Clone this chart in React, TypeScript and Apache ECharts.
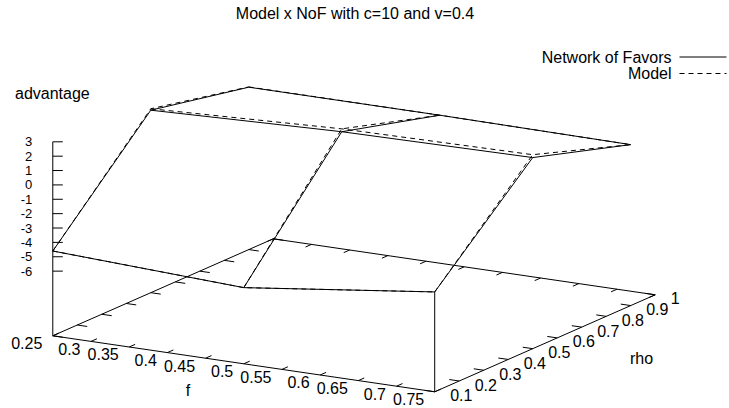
import React, { useEffect, useRef } from 'react';
import * as echarts from 'echarts';

// ---------------- data ----------------
const titleText = 'Model x NoF with c=10 and v=0.4';
const seriesNames = ['Network of Favors', 'Model'];

const fValues = [0.25, 0.5, 0.75];
const rhoValues = [0.1, 0.5, 0.9];

// advantage, one array per rho value, across fValues
const nofRho01 = [-4.6, -5.2, -3.55];
const nofRho05 = [2.2, 2.65, 2.8];
const nofRho09 = [0.8, 0.8, 0.7];

const modelRho01 = [-4.6, -5.2, -3.55];
const modelRho05 = [2.3, 2.85, 3.0];
const modelRho09 = [0.82, 0.8, 0.7];

const fTicks = [0.25, 0.3, 0.35, 0.4, 0.45, 0.5, 0.55, 0.6, 0.65, 0.7, 0.75];
const rhoTicks = [0.1, 0.2, 0.3, 0.4, 0.5, 0.6, 0.7, 0.8, 0.9, 1];
const zTicks = [3, 2, 1, 0, -1, -2, -3, -4, -5, -6];

// ---------------- view (gnuplot-like "set view 60,30") ----------------
const W = 729;
const H = 408;
const F_RANGE = [0.25, 0.75];
const RHO_RANGE = [0.1, 1];
const Z_RANGE = [-6, 3];
const TICSLEVEL = 0.5;
const Z_BASE = Z_RANGE[0] - TICSLEVEL * (Z_RANGE[1] - Z_RANGE[0]);
const ROT_X = (60 * Math.PI) / 180;
const ROT_Z = (30 * Math.PI) / 180;
const SCALE_X = 220.5;
const SCALE_Y = 112;
const CENTER_X = 354;
const CENTER_Y = 218.3;
const FONT = '"Liberation Sans", Arial, Helvetica, sans-serif';
const FS = 16;

function project(f: number, rho: number, z: number): [number, number] {
  const u = (f - (F_RANGE[0] + F_RANGE[1]) / 2) / ((F_RANGE[1] - F_RANGE[0]) / 2);
  const v = (rho - (RHO_RANGE[0] + RHO_RANGE[1]) / 2) / ((RHO_RANGE[1] - RHO_RANGE[0]) / 2);
  const w = (z - (Z_BASE + Z_RANGE[1]) / 2) / ((Z_RANGE[1] - Z_BASE) / 2);
  const X = u * Math.cos(ROT_Z) + v * Math.sin(ROT_Z);
  const Y = (u * Math.sin(ROT_Z) - v * Math.cos(ROT_Z)) * Math.cos(ROT_X) - w * Math.sin(ROT_X);
  return [CENTER_X + SCALE_X * X, CENTER_Y + SCALE_Y * Y];
}

const GAP: any = ['-', '-'];

function meshData(rows: number[][], withCorner: boolean) {
  const out: any[] = [];
  rows.forEach((row, i) => {
    row.forEach((z, j) => out.push(project(fValues[j], rhoValues[i], z)));
    out.push(GAP);
  });
  fValues.forEach((f, j) => {
    rows.forEach((row, i) => out.push(project(f, rhoValues[i], row[j])));
    out.push(GAP);
  });
  if (withCorner) {
    const last = fValues.length - 1;
    out.push(project(fValues[last], rhoValues[0], Z_BASE));
    out.push(project(fValues[last], rhoValues[0], rows[0][last]));
    out.push(GAP);
  }
  return out;
}

function frameData() {
  const out: any[] = [];
  const [f0, f1] = F_RANGE;
  const [r0, r1] = RHO_RANGE;
  // base
  out.push(project(f0, r0, Z_BASE), project(f1, r0, Z_BASE), project(f1, r1, Z_BASE), project(f0, r1, Z_BASE), project(f0, r0, Z_BASE), GAP);
  // z axis
  out.push(project(f0, r0, Z_BASE), project(f0, r0, Z_RANGE[1]), GAP);
  const fLen = 0.027 * (r1 - r0);
  const rLen = 0.026 * (f1 - f0);
  fTicks.forEach((f) => {
    out.push(project(f, r0, Z_BASE), project(f, r0 + fLen, Z_BASE), GAP);
    out.push(project(f, r1, Z_BASE), project(f, r1 - fLen, Z_BASE), GAP);
  });
  rhoTicks.forEach((r) => {
    out.push(project(f1, r, Z_BASE), project(f1 - rLen, r, Z_BASE), GAP);
    out.push(project(f0, r, Z_BASE), project(f0 + rLen, r, Z_BASE), GAP);
  });
  zTicks.forEach((z) => {
    const p = project(f0, r0, z);
    out.push(p, [p[0] + 10, p[1]], GAP);
  });
  return out;
}

function fmt(v: number) {
  return String(parseFloat(v.toFixed(2)));
}

function textEl(text: string, x: number, y: number, align: string, size: number = FS) {
  const style: any = {
    text,
    fill: '#000',
    fontSize: size,
    fontFamily: FONT,
    align,
    verticalAlign: 'middle',
    textAlign: align,
    textVerticalAlign: 'middle',
    lineHeight: size,
  };
  return { type: 'text', x, y, silent: true, style };
}

function buildOption() {
  const graphics: any[] = [];
  fTicks.forEach((f) => {
    const p = project(f, RHO_RANGE[0], Z_BASE);
    graphics.push(textEl(fmt(f), p[0] - 10.5, p[1] + 8, 'right'));
  });
  rhoTicks.forEach((r) => {
    const p = project(F_RANGE[1], r, Z_BASE);
    graphics.push(textEl(fmt(r), p[0] + 15.5, p[1] + 4, 'left'));
  });
  zTicks.forEach((z) => {
    const p = project(F_RANGE[0], RHO_RANGE[0], z);
    graphics.push(textEl(String(z), p[0] - 20.5, p[1], 'right', 13));
  });
  graphics.push(textEl('f', 188, 390, 'center'));
  graphics.push(textEl('rho', 641.5, 358, 'center'));
  graphics.push(textEl('advantage', 15, 93, 'left'));

  const nof = [nofRho01, nofRho05, nofRho09];
  const model = [modelRho01, modelRho05, modelRho09];

  return {
    animation: false,
    backgroundColor: '#fff',
    title: {
      text: titleText,
      left: 355,
      top: 5,
      textAlign: 'center',
      padding: 0,
      textStyle: { fontSize: FS, fontWeight: 'normal', color: '#000', fontFamily: FONT },
    },
    legend: {
      data: seriesNames,
      orient: 'vertical',
      right: 2,
      top: 49,
      align: 'right',
      padding: 0,
      itemWidth: 47,
      itemHeight: 14,
      itemGap: 0.5,
      selectedMode: false,
      itemStyle: { color: 'transparent', borderWidth: 0, opacity: 0 },
      lineStyle: { color: '#000', width: 1 },
      textStyle: { fontSize: FS, color: '#000', fontFamily: FONT, padding: [0, 3, 0, 0] },
    },
    grid: { left: 0, top: 0, width: W, height: H },
    xAxis: { type: 'value', min: 0, max: W, show: false },
    yAxis: { type: 'value', min: 0, max: H, inverse: true, show: false },
    series: [
      {
        name: 'frame',
        type: 'line',
        data: frameData(),
        symbol: 'none',
        silent: true,
        clip: false,
        color: '#000',
        lineStyle: { color: '#000', width: 1 },
        z: 1,
      },
      {
        name: seriesNames[0],
        type: 'line',
        data: meshData(nof, true),
        symbol: 'none',
        silent: true,
        clip: false,
        color: '#000',
        lineStyle: { color: '#000', width: 1, type: 'solid' },
        z: 2,
      },
      {
        name: seriesNames[1],
        type: 'line',
        data: meshData(model, false),
        symbol: 'none',
        silent: true,
        clip: false,
        color: '#000',
        lineStyle: { color: '#000', width: 1, type: [5, 4] },
        z: 3,
      },
    ],
    graphic: graphics,
  };
}

export default function App() {
  const ref = useRef<HTMLDivElement>(null);
  useEffect(() => {
    const chart = echarts.init(ref.current!, null, { renderer: 'svg' });
    chart.setOption(buildOption() as any);
    return () => chart.dispose();
  }, []);
  return (
    <div
      ref={ref}
      style={{ position: 'fixed', left: 0, top: 0, width: W, height: H, background: '#fff' }}
    />
  );
}
